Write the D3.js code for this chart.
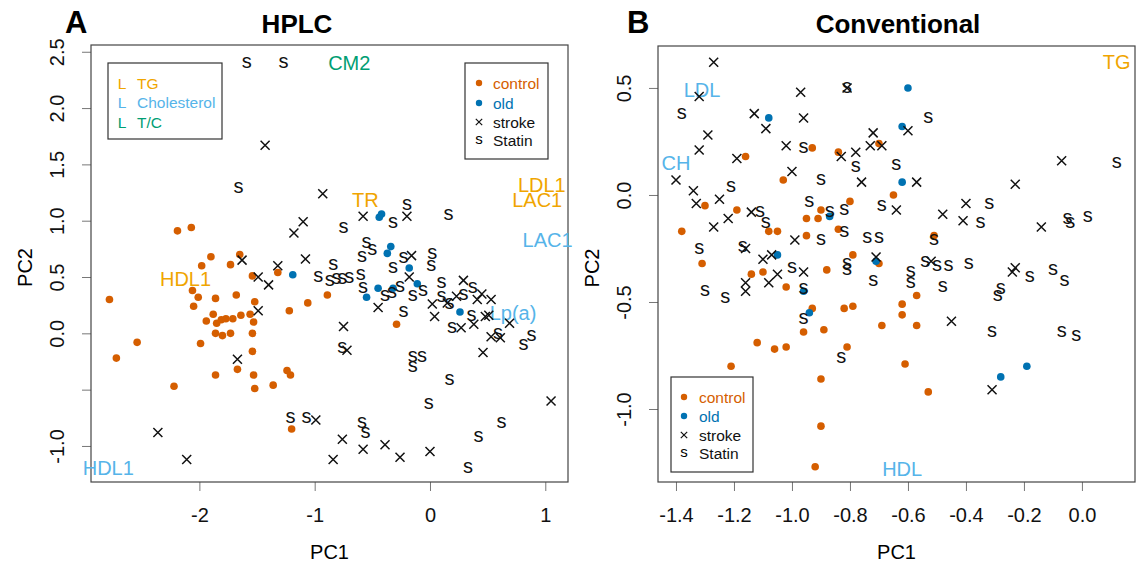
<!DOCTYPE html>
<html>
<head>
<meta charset="utf-8">
<script src="https://cdn.jsdelivr.net/npm/d3@7"></script>
<style>
  body { margin: 0; background: #fff; }
  svg text { font-family: "Liberation Sans", Arial, sans-serif; }
</style>
</head>
<body>
<svg id="chart" width="1137" height="568"></svg>
<script>
// ---- panel A: HPLC ----
const hplcControl = [
  [-2.19,0.91],[-2.07,0.94],[-1.90,0.68],[-1.65,0.70],[-1.98,0.60],[-1.73,0.61],[-1.32,0.54],[-1.54,0.51],
  [-2.06,0.38],[-2.01,0.32],[-1.86,0.31],[-1.68,0.34],[-2.78,0.30],[-2.05,0.24],[-1.52,0.28],[-1.22,0.20],
  [-1.06,0.27],[-0.89,0.34],[-1.88,0.17],[-1.94,0.11],[-1.85,0.09],[-1.81,0.12],[-1.77,0.13],[-1.71,0.13],
  [-1.64,0.16],[-1.56,0.17],[-1.53,0.10],[-1.86,0.00],[-1.80,-0.02],[-1.73,0.00],[-1.54,0.00],[-2.54,-0.08],
  [-1.99,-0.09],[-1.54,-0.16],[-1.67,-0.32],[-2.72,-0.22],[-1.86,-0.37],[-1.53,-0.37],[-1.24,-0.33],[-1.21,-0.37],
  [-2.22,-0.47],[-1.52,-0.49],[-1.36,-0.46],[-1.20,-0.85],[-0.29,0.08]
];
const hplcOld = [
  [-1.19,0.52],[-0.44,1.03],[-0.42,1.06],[-0.34,0.77],[-0.37,0.71],[-0.18,0.58],[-0.45,0.40],[-0.55,0.32],
  [-0.32,0.40],[-0.11,0.44],[0.26,0.19]
];
const hplcStroke = [
  [-1.43,1.67],[-0.93,1.24],[-1.10,0.99],[-1.18,0.89],[-1.63,0.65],[-1.32,0.60],[-1.08,0.66],[-1.49,0.50],
  [-1.40,0.43],[-1.49,0.20],[-0.75,0.06],[-0.72,-0.15],[-1.67,-0.23],[-0.58,1.04],[-0.20,1.04],[-0.16,0.69],
  [-0.18,0.50],[-0.45,0.23],[0.29,0.47],[0.02,0.26],[0.04,0.15],[0.15,0.27],[0.23,0.33],[0.41,0.30],
  [0.45,0.35],[0.53,0.30],[0.48,0.15],[0.38,0.08],[0.51,0.16],[0.69,0.09],[0.53,-0.03],[0.61,-0.04],
  [0.27,0.05],[0.46,-0.17],[-0.99,-0.77],[-2.36,-0.88],[-0.76,-0.94],[-0.58,-1.03],[-0.39,-0.99],[-0.26,-1.10],
  [0.00,-1.05],[-0.84,-1.12],[-2.11,-1.12],[1.05,-0.60]
];
const hplcStatin = [
  [-1.59,2.40],[-1.27,2.40],[-1.66,1.29],[-0.75,0.94],[-0.32,0.98],[-0.20,1.14],[0.16,1.05],[-0.55,0.80],
  [-0.50,0.74],[-0.59,0.68],[-0.23,0.67],[0.02,0.71],[0.01,0.60],[-0.32,0.58],[-0.97,0.50],[-0.84,0.61],
  [-0.87,0.47],[-0.81,0.48],[-0.76,0.48],[-0.70,0.49],[-0.60,0.52],[-0.58,0.40],[-0.39,0.33],[-0.33,0.36],
  [-0.26,0.41],[-0.15,0.33],[-0.06,0.38],[0.10,0.45],[0.37,0.40],[0.10,0.32],[0.17,0.26],[0.29,0.34],
  [-0.23,0.19],[0.36,0.16],[0.59,0.00],[0.81,-0.10],[0.88,-0.02],[0.19,0.05],[-0.76,-0.13],[-0.15,-0.21],
  [-0.07,-0.21],[-0.15,-0.30],[0.17,-0.41],[-1.21,-0.75],[-1.07,-0.75],[-0.59,-0.79],[-0.56,-0.88],[-0.01,-0.63],
  [0.62,-0.79],[0.42,-0.92],[0.33,-1.19]
];
const hplcLoadings = [
  {name:"CM2", kind:"tc", x:-0.70, y:2.40},
  {name:"TR", kind:"tg", x:-0.56, y:1.19},
  {name:"LDL1", kind:"tg", x:0.97, y:1.32},
  {name:"LAC1", kind:"tg", x:0.93, y:1.19},
  {name:"LAC1", kind:"ch", x:1.02, y:0.83},
  {name:"HDL1", kind:"tg", x:-2.12, y:0.48},
  {name:"HDL1", kind:"ch", x:-2.79, y:-1.19},
  {name:"Lp(a)", kind:"ch", x:0.72, y:0.18}
];
const hplcTicksX = [-2, -1, 0, 1];
const hplcTickLabelsX = ["-2", "-1", "0", "1"];
const hplcTicksY = [-1, -0.5, 0, 0.5, 1, 1.5, 2, 2.5];
const hplcTickLabelsY = ["-1.0", "", "0.0", "0.5", "1.0", "1.5", "2.0", "2.5"];

// ---- panel B: Conventional ----
const convControl = [
  [-1.16,0.18],[-1.30,-0.05],[-0.93,0.22],[-0.84,0.20],[-1.03,0.07],[-0.80,-0.03],[-1.19,-0.07],[-1.08,-0.17],
  [-1.05,-0.17],[-0.90,-0.07],[-0.95,-0.11],[-0.91,-0.11],[-1.38,-0.17],[-0.84,-0.16],[-0.95,-0.19],[-0.70,0.24],
  [-0.65,0.00],[-0.51,-0.19],[-1.31,-0.32],[-0.88,-0.35],[-0.79,-0.28],[-1.14,-0.37],[-1.10,-0.36],[-1.02,-0.43],
  [-0.93,-0.53],[-0.96,-0.64],[-0.89,-0.63],[-0.82,-0.53],[-0.79,-0.52],[-1.12,-0.69],[-1.06,-0.72],[-1.02,-0.71],
  [-0.81,-0.71],[-1.21,-0.80],[-0.90,-0.86],[-0.90,-1.08],[-0.92,-1.27],[-0.70,-0.32],[-0.62,-0.51],[-0.62,-0.56],
  [-0.69,-0.61],[-0.57,-0.61],[-0.57,-0.47],[-0.61,-0.79],[-0.53,-0.92]
];
const convOld = [
  [-1.08,0.36],[-0.60,0.50],[-0.62,0.32],[-0.62,0.06],[-0.87,-0.10],[-0.71,-0.31],[-1.05,-0.28],[-0.96,-0.45],
  [-0.94,-0.55],[-0.28,-0.85],[-0.19,-0.80]
];
const convStroke = [
  [-1.27,0.62],[-1.32,0.46],[-1.13,0.38],[-1.09,0.31],[-1.29,0.28],[-1.32,0.21],[-1.19,0.17],[-1.40,0.07],
  [-1.34,0.02],[-1.33,-0.04],[-1.25,-0.02],[-0.97,0.48],[-0.96,0.36],[-0.81,0.50],[-1.02,0.23],[-0.83,0.18],
  [-0.78,0.20],[-1.00,0.11],[-1.22,-0.11],[-1.14,-0.08],[-1.27,-0.15],[-0.99,-0.21],[-0.60,0.30],[-0.72,0.29],
  [-0.73,0.23],[-0.69,0.23],[-0.76,0.06],[-0.57,0.06],[-0.64,-0.07],[-0.48,-0.09],[-0.40,-0.04],[-0.41,-0.12],
  [-0.07,0.16],[-0.23,0.05],[-0.14,-0.15],[-1.16,-0.25],[-1.07,-0.28],[-1.10,-0.30],[-0.96,-0.36],[-1.05,-0.37],
  [-1.08,-0.41],[-1.16,-0.41],[-1.16,-0.45],[-0.71,-0.29],[-0.52,-0.31],[-0.24,-0.36],[-0.23,-0.34],[-0.45,-0.59],
  [-0.31,-0.91]
];
const convStatin = [
  [-1.38,0.38],[-1.21,0.04],[-0.81,0.50],[-0.96,0.22],[-0.78,0.13],[-0.90,0.07],[-0.94,-0.03],[-1.11,-0.08],
  [-1.09,-0.13],[-0.87,-0.08],[-0.82,-0.07],[-0.82,-0.17],[-0.90,-0.21],[-1.32,-0.25],[-1.17,-0.24],[-0.53,0.36],
  [-0.64,0.14],[-0.69,-0.05],[-0.32,-0.04],[-0.35,-0.13],[0.12,0.15],[-0.05,-0.11],[-0.04,-0.13],[0.02,-0.10],
  [-0.74,-0.20],[-0.70,-0.20],[-0.51,-0.21],[-1.00,-0.34],[-0.81,-0.32],[-0.81,-0.35],[-0.96,-0.44],[-1.30,-0.45],
  [-1.23,-0.48],[-0.96,-0.58],[-0.83,-0.76],[-0.72,-0.40],[-0.59,-0.36],[-0.59,-0.41],[-0.54,-0.31],[-0.50,-0.33],
  [-0.46,-0.33],[-0.39,-0.32],[-0.48,-0.43],[-0.18,-0.38],[-0.10,-0.35],[-0.06,-0.40],[-0.28,-0.44],[-0.29,-0.47],
  [-0.31,-0.64],[-0.07,-0.64],[-0.02,-0.66]
];
const convLoadings = [
  {name:"LDL", kind:"ch", x:-1.31, y:0.49},
  {name:"CH", kind:"ch", x:-1.40, y:0.15},
  {name:"TG", kind:"tg", x:0.12, y:0.62},
  {name:"HDL", kind:"ch", x:-0.62, y:-1.28}
];
const convTicksX = [-1.4, -1.2, -1.0, -0.8, -0.6, -0.4, -0.2, 0.0];
const convTickLabelsX = ["-1.4", "-1.2", "-1.0", "-0.8", "-0.6", "-0.4", "-0.2", "0.0"];
const convTicksY = [-1, -0.5, 0, 0.5];
const convTickLabelsY = ["-1.0", "-0.5", "0.0", "0.5"];

// legends
const groupNames = ["control", "old", "stroke", "Statin"];
const measureNames = ["TG", "Cholesterol", "T/C"];

const col = {
  control: "#D55E00", old: "#0072B2",
  tg: "#F0A500", ch: "#56B4E9", tc: "#009E73"
};
const measureColors = [col.tg, col.ch, col.tc];
const groupColors = [col.control, col.old, "#111", "#111"];
const crossPath = h => `M${-h},${-h}L${h},${h}M${-h},${h}L${h},${-h}`;

const svg = d3.select("#chart");

function drawPanel(p) {
  const x = d3.scaleLinear().domain(p.xDomain).range([p.left, p.right]);
  const y = d3.scaleLinear().domain(p.yDomain).range([p.bottom, p.top]);
  const g = svg.append("g");

  // axes
  const ax = g.append("g")
    .attr("transform", `translate(0,${p.bottom})`)
    .call(d3.axisBottom(x).tickValues(p.xTicks)
      .tickFormat((d, i) => p.xTickLabels[i]).tickSize(9).tickPadding(17));
  ax.select(".domain").remove();
  ax.selectAll("line").attr("stroke", "#777");
  ax.selectAll("text").attr("font-size", 20).attr("fill", "#111");

  const ay = g.append("g")
    .attr("transform", `translate(${p.left},0)`)
    .call(d3.axisLeft(y).tickValues(p.yTicks)
      .tickFormat((d, i) => p.yTickLabels[i]).tickSize(9));
  ay.select(".domain").remove();
  ay.selectAll("line").attr("stroke", "#777");
  ay.selectAll("text")
    .attr("transform", "rotate(-90)")
    .attr("x", 0).attr("y", -27).attr("dy", 0)
    .attr("text-anchor", "middle")
    .attr("font-size", 20).attr("fill", "#111");

  // box
  g.append("rect")
    .attr("x", p.left).attr("y", p.top)
    .attr("width", p.right - p.left).attr("height", p.bottom - p.top)
    .attr("fill", "none").attr("stroke", "#444").attr("stroke-width", 1.2);

  // titles
  g.append("text").attr("x", p.titleX).attr("y", 33)
    .attr("text-anchor", "middle").attr("font-size", 26).attr("font-weight", "bold")
    .text(p.title);
  g.append("text").attr("x", p.letterX).attr("y", 33)
    .attr("font-size", 31).attr("font-weight", "bold").text(p.letter);
  g.append("text").attr("x", (p.left + p.right) / 2).attr("y", 559)
    .attr("text-anchor", "middle").attr("font-size", 20).text("PC1");
  g.append("text")
    .attr("transform", `translate(${p.left - 59},${(p.top + p.bottom) / 2 + 4}) rotate(-90)`)
    .attr("text-anchor", "middle").attr("font-size", 20).text("PC2");

  // loadings labels
  g.selectAll(".load").data(p.loadings).enter().append("text")
    .attr("x", d => x(d.x)).attr("y", d => y(d.y)).attr("dy", "0.36em")
    .attr("text-anchor", "middle").attr("font-size", 20)
    .attr("fill", d => col[d.kind]).text(d => d.name);

  // points
  g.selectAll(".ctrl").data(p.control).enter().append("circle")
    .attr("cx", d => x(d[0])).attr("cy", d => y(d[1])).attr("r", 3.8)
    .attr("fill", col.control);
  g.selectAll(".old").data(p.old).enter().append("circle")
    .attr("cx", d => x(d[0])).attr("cy", d => y(d[1])).attr("r", 3.8)
    .attr("fill", col.old);
  g.selectAll(".stroke").data(p.stroke).enter().append("path")
    .attr("transform", d => `translate(${x(d[0])},${y(d[1])})`)
    .attr("d", crossPath(4.5)).attr("stroke", "#111").attr("stroke-width", 1.5);
  g.selectAll(".statin").data(p.statin).enter().append("text")
    .attr("x", d => x(d[0])).attr("y", d => y(d[1])).attr("dy", "0.26em")
    .attr("text-anchor", "middle").attr("font-size", 20).attr("fill", "#111")
    .text("s");
}

function groupLegend(bx, by, bw, bh, symX, txtX, rows) {
  const lg = svg.append("g");
  lg.append("rect").attr("x", bx).attr("y", by).attr("width", bw).attr("height", bh)
    .attr("fill", "#fff").attr("stroke", "#333").attr("stroke-width", 1.2);
  groupNames.forEach((name, i) => {
    const ry = rows[i];
    if (i < 2) {
      lg.append("circle").attr("cx", symX).attr("cy", ry).attr("r", 3.2).attr("fill", groupColors[i]);
    } else if (i === 2) {
      lg.append("path").attr("transform", `translate(${symX},${ry})`)
        .attr("d", crossPath(3.2)).attr("stroke", "#111").attr("stroke-width", 1.2);
    } else {
      lg.append("text").attr("x", symX).attr("y", ry).attr("dy", "0.26em")
        .attr("text-anchor", "middle").attr("font-size", 15).text("s");
    }
    lg.append("text").attr("x", txtX).attr("y", ry).attr("dy", "0.36em")
      .attr("font-size", 15.5).attr("fill", groupColors[i]).text(name);
  });
}

drawPanel({
  title: "HPLC", titleX: 297, letter: "A", letterX: 65,
  left: 91, right: 568, top: 45, bottom: 482,
  xDomain: [-2.94, 1.197], yDomain: [-1.32, 2.56],
  xTicks: hplcTicksX, xTickLabels: hplcTickLabelsX,
  yTicks: hplcTicksY, yTickLabels: hplcTickLabelsY,
  loadings: hplcLoadings,
  control: hplcControl, old: hplcOld, stroke: hplcStroke, statin: hplcStatin
});

drawPanel({
  title: "Conventional", titleX: 898, letter: "B", letterX: 627,
  left: 658, right: 1135, top: 46, bottom: 482,
  xDomain: [-1.462, 0.183], yDomain: [-1.341, 0.696],
  xTicks: convTicksX, xTickLabels: convTickLabelsX,
  yTicks: convTicksY, yTickLabels: convTickLabelsY,
  loadings: convLoadings,
  control: convControl, old: convOld, stroke: convStroke, statin: convStatin
});

// measure legend (panel A, top left)
const ml = svg.append("g");
ml.append("rect").attr("x", 108).attr("y", 63).attr("width", 114).attr("height", 76)
  .attr("fill", "#fff").attr("stroke", "#333").attr("stroke-width", 1.2);
measureNames.forEach((name, i) => {
  const ry = 83 + i * 19.5;
  ml.append("text").attr("x", 122).attr("y", ry).attr("dy", "0.36em")
    .attr("text-anchor", "middle").attr("font-size", 15.5).attr("fill", measureColors[i]).text("L");
  ml.append("text").attr("x", 137).attr("y", ry).attr("dy", "0.36em")
    .attr("font-size", 15.5).attr("fill", measureColors[i]).text(name);
});

groupLegend(465, 63, 83, 96, 479, 493, [83, 103, 122, 140]);
groupLegend(671, 377, 82, 95, 684, 699, [397, 416, 435, 453]);
</script>
</body>
</html>
